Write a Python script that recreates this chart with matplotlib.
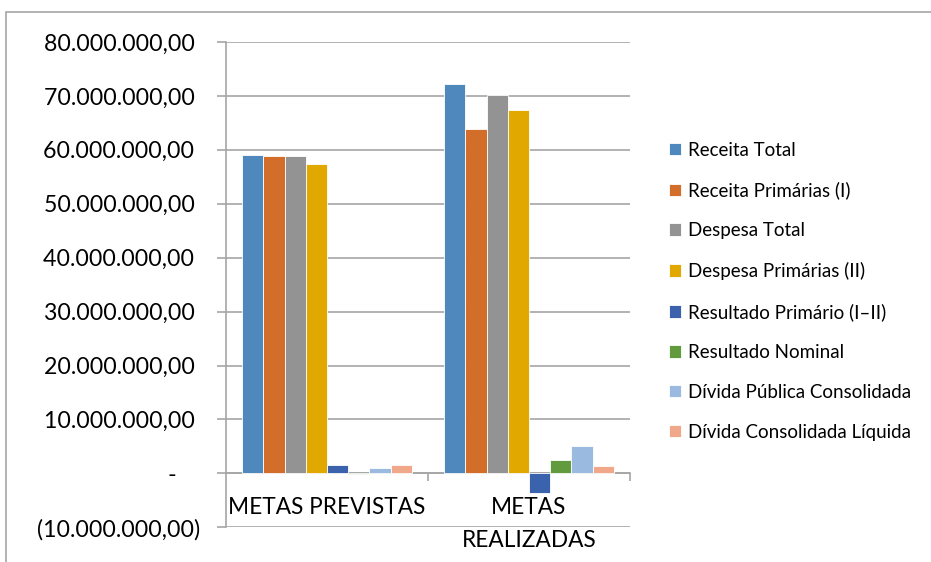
import numpy as np
import matplotlib.pyplot as plt
from matplotlib.patches import Rectangle

plt.rcParams['font.family'] = ['Lato', 'DejaVu Sans']

categories = ["METAS PREVISTAS", "METAS\nREALIZADAS"]
series = ["Receita Total", "Receita Primárias (I)", "Despesa Total",
          "Despesa Primárias (II)", "Resultado Primário (I–II)",
          "Resultado Nominal", "Dívida Pública Consolidada",
          "Dívida Consolidada Líquida"]

# values in R$ (previstas, realizadas)
receita_total = [58.95e6, 72.2e6]
receita_primarias = [58.85e6, 63.8e6]
despesa_total = [58.9e6, 70.1e6]
despesa_primarias = [57.3e6, 67.4e6]
resultado_primario = [1.6e6, -3.7e6]
resultado_nominal = [-0.1e6, 2.4e6]
divida_publica = [0.95e6, 5.0e6]
divida_liquida = [1.5e6, 1.35e6]

values = [receita_total, receita_primarias, despesa_total, despesa_primarias,
          resultado_primario, resultado_nominal, divida_publica, divida_liquida]
colors = ['#4F88BD', '#D36D2A', '#939393', '#E1A800',
          '#3B63AD', '#619B3E', '#9ABAE0', '#F1A88A']

y_ticks = np.arange(-10e6, 80e6 + 1, 10e6)


def fmt(v):
    # Excel accounting style: 10.000.000,00 / - / (10.000.000,00)
    if v == 0:
        return "-    "
    s = "{:,.2f}".format(abs(v)).replace(",", "X").replace(".", ",").replace("X", ".")
    return "(" + s + ")" if v < 0 else s + " "


fig = plt.figure(figsize=(9.31, 5.62), dpi=100)
ax = fig.add_axes([0.2427, 0.0617, 0.434, 0.8636])

x = np.arange(len(categories))
n = len(series)
w = 0.84 / n
for i in range(n):
    ax.bar(x - 0.42 + w * (i + 0.5), values[i], width=w, color=colors[i],
           edgecolor='white', linewidth=0.6, label=series[i], zorder=3)

ax.set_xlim(-0.5, 1.5)
ax.set_ylim(-10e6, 80e6)
ax.set_yticks(y_ticks)
ax.set_yticklabels([fmt(v) for v in y_ticks])
ax.yaxis.grid(True, color='#A6A6A6', linewidth=1.2, zorder=0)

for s in ['top', 'right']:
    ax.spines[s].set_visible(False)
ax.spines['left'].set_color('#A6A6A6')
ax.spines['left'].set_linewidth(1.2)
ax.spines['bottom'].set_position(('data', 0))
ax.spines['bottom'].set_color('#A6A6A6')
ax.spines['bottom'].set_linewidth(1.2)

ax.set_xticks(x)
ax.set_xticklabels(categories, fontsize=16.3, linespacing=1.7)
ax.set_xticks([0.5, 1.5], minor=True)
ax.tick_params(axis='x', which='major', length=0, pad=17)
ax.tick_params(axis='x', which='minor', length=6, color='#A6A6A6', width=1.2)
ax.tick_params(axis='y', length=6.5, color='#A6A6A6', width=1.2, pad=12,
               labelsize=16.7)

fig.legend(loc='center left', bbox_to_anchor=(0.7, 0.482), frameon=False,
           fontsize=13.5, handlelength=0.65, handleheight=0.65,
           handletextpad=0.4, labelspacing=1.22)

fig.patches.append(Rectangle((6 / 931, -0.1), 1.2, 1 - 12 / 562 + 0.1,
                             transform=fig.transFigure, fill=False,
                             edgecolor='#A6A6A6', linewidth=1.2))

fig.savefig("out.png", dpi=100)
